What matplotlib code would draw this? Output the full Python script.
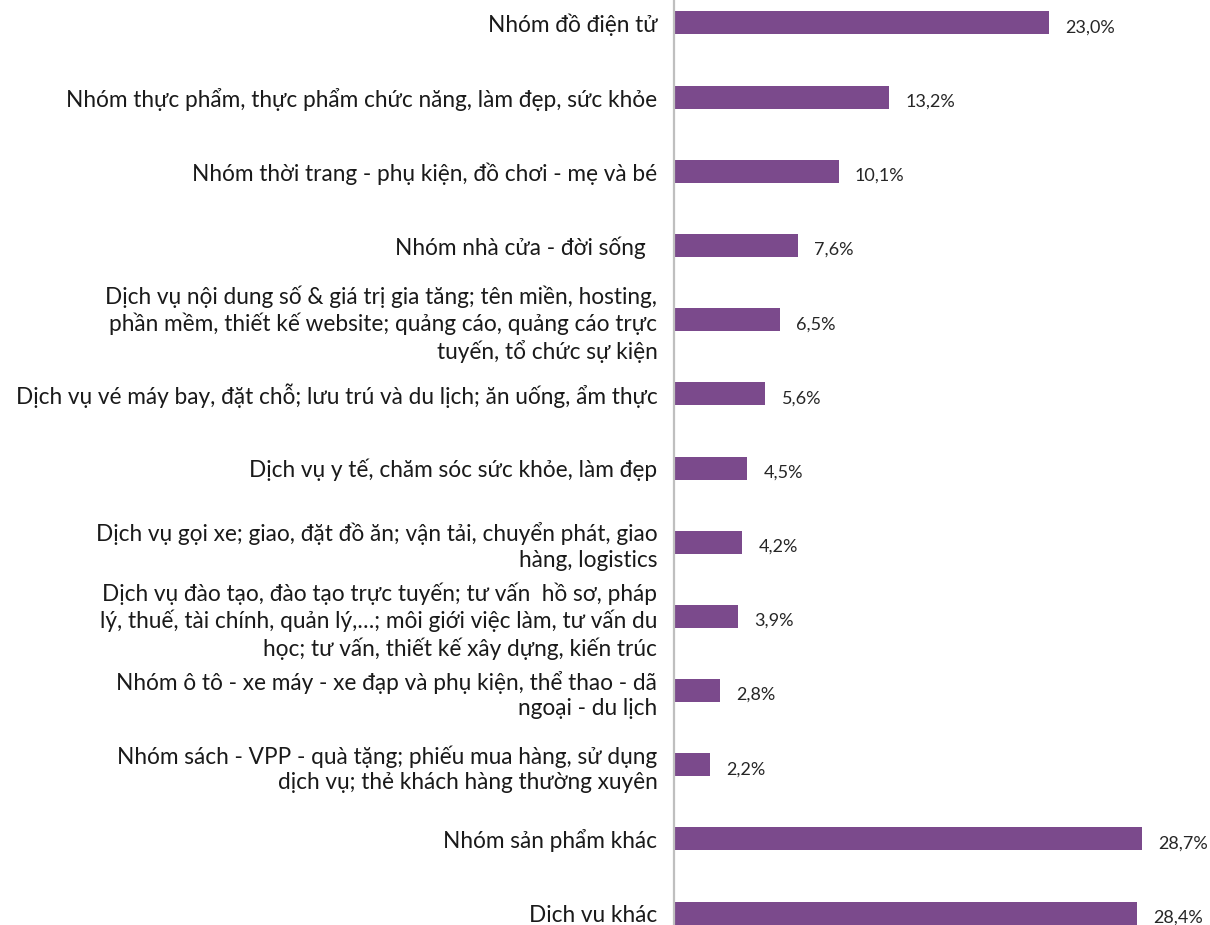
import matplotlib
matplotlib.use("Agg")
import matplotlib.pyplot as plt

# Danh mục và tỷ lệ (%)
categories = [
    "Nhóm đồ điện tử",
    "Nhóm thực phẩm, thực phẩm chức năng, làm đẹp, sức khỏe",
    "Nhóm thời trang - phụ kiện, đồ chơi - mẹ và bé",
    "Nhóm nhà cửa - đời sống  ",
    "Dịch vụ nội dung số & giá trị gia tăng; tên miền, hosting,\n"
    "phần mềm, thiết kế website; quảng cáo, quảng cáo trực\n"
    "tuyến, tổ chức sự kiện",
    "Dịch vụ vé máy bay, đặt chỗ; lưu trú và du lịch; ăn uống, ẩm thực",
    "Dịch vụ y tế, chăm sóc sức khỏe, làm đẹp",
    "Dịch vụ gọi xe; giao, đặt đồ ăn; vận tải, chuyển phát, giao\n"
    "hàng, logistics",
    "Dịch vụ đào tạo, đào tạo trực tuyến; tư vấn  hồ sơ, pháp\n"
    "lý, thuế, tài chính, quản lý,…; môi giới việc làm, tư vấn du\n"
    "học; tư vấn, thiết kế xây dựng, kiến trúc",
    "Nhóm ô tô - xe máy - xe đạp và phụ kiện, thể thao - dã\n"
    "ngoại - du lịch",
    "Nhóm sách - VPP - quà tặng; phiếu mua hàng, sử dụng\n"
    "dịch vụ; thẻ khách hàng thường xuyên",
    "Nhóm sản phẩm khác",
    "Dich vu khác",
]
values = [23.0, 13.2, 10.1, 7.6, 6.5, 5.6, 4.5, 4.2, 3.9, 2.8, 2.2, 28.7, 28.4]

bar_color = "#7B4A8C"
font = "Lato"

fig = plt.figure(figsize=(12.1, 9.25), dpi=100)
ax = fig.add_axes([0.557, 0.0, 0.443, 1.0])

pos = list(range(len(values)))
ax.barh(pos, values, height=0.31, color=bar_color)

for y, v in zip(pos, values):
    ax.text(v + 1.0, y + 0.06, f"{v:.1f}".replace(".", ",") + "%",
            va="center", ha="left", fontsize=13, color="#262626", family=font)

ax.set_xlim(0, 32.9)
ax.set_ylim(12.16, -0.31)
ax.set_yticks(pos)
ax.set_yticklabels(categories, fontsize=16.3, family=font, color="#1a1a1a",
                   linespacing=1.27)
ax.tick_params(axis="y", length=0, pad=12)
ax.set_xticks([])

for s in ["top", "right", "bottom"]:
    ax.spines[s].set_visible(False)
ax.spines["left"].set_color("#BFBFBF")
ax.spines["left"].set_linewidth(1.6)

fig.savefig("out.png", dpi=100)
